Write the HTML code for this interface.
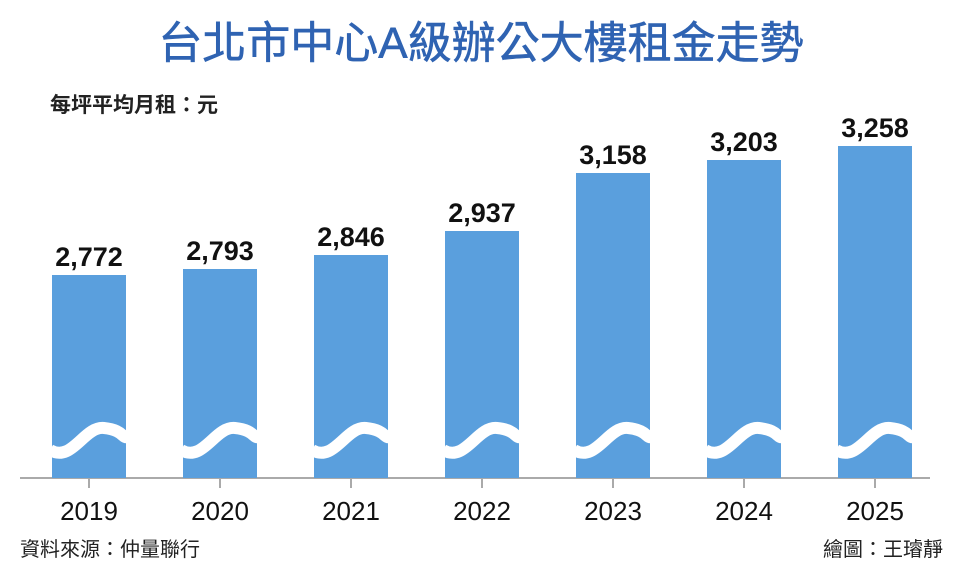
<!DOCTYPE html>
<html><head><meta charset="utf-8"><style>
body{margin:0;background:#fff;}
svg{display:block;}
text{font-family:"Liberation Sans","Noto Sans CJK TC",sans-serif;}
</style></head><body>
<svg width="963" height="566" viewBox="0 0 963 566" xmlns="http://www.w3.org/2000/svg">
<rect width="963" height="566" fill="#fff"/>
<text x="481" y="58" text-anchor="middle" font-size="44" fill="#2f63b2" stroke="#2f63b2" stroke-width="0.6">台北市中心A級辦公大樓租金走勢</text>
<text x="50" y="112" font-size="21" fill="#222" font-weight="bold">每坪平均月租：元</text>
<line x1="20" y1="478" x2="930" y2="478" stroke="#aaa" stroke-width="2"/>
<g fill="#5a9fdd">
<rect x="52" y="275" width="74" height="203"/>
<rect x="183" y="269" width="74" height="209"/>
<rect x="314" y="255" width="74" height="223"/>
<rect x="445" y="231" width="74" height="247"/>
<rect x="576" y="173" width="74" height="305"/>
<rect x="707" y="160" width="74" height="318"/>
<rect x="838" y="146" width="74" height="332"/>
</g>
<g fill="none" stroke="#fff" stroke-width="12">
<path d="M50,450 C72,463 84,426 104,428 S122,439 128,437"/>
<path d="M181,450 C203,463 215,426 235,428 S253,439 259,437"/>
<path d="M312,450 C334,463 346,426 366,428 S384,439 390,437"/>
<path d="M443,450 C465,463 477,426 497,428 S515,439 521,437"/>
<path d="M574,450 C596,463 608,426 628,428 S646,439 652,437"/>
<path d="M705,450 C727,463 739,426 759,428 S777,439 783,437"/>
<path d="M836,450 C858,463 870,426 890,428 S908,439 914,437"/>
</g>
<g stroke="#aaa" stroke-width="2">
<line x1="89" y1="478" x2="89" y2="488"/><line x1="220" y1="478" x2="220" y2="488"/>
<line x1="351" y1="478" x2="351" y2="488"/><line x1="482" y1="478" x2="482" y2="488"/>
<line x1="613" y1="478" x2="613" y2="488"/><line x1="744" y1="478" x2="744" y2="488"/>
<line x1="875" y1="478" x2="875" y2="488"/>
</g>
<g font-size="27" font-weight="bold" fill="#111" text-anchor="middle">
<text x="89" y="266">2,772</text><text x="220" y="260">2,793</text>
<text x="351" y="246">2,846</text><text x="482" y="222">2,937</text>
<text x="613" y="164">3,158</text><text x="744" y="151">3,203</text>
<text x="875" y="137">3,258</text>
</g>
<g font-size="26" fill="#111" text-anchor="middle">
<text x="89" y="520">2019</text><text x="220" y="520">2020</text>
<text x="351" y="520">2021</text><text x="482" y="520">2022</text>
<text x="613" y="520">2023</text><text x="744" y="520">2024</text>
<text x="875" y="520">2025</text>
</g>
<text x="20" y="556" font-size="20" fill="#222">資料來源：仲量聯行</text>
<text x="943" y="556" font-size="20" fill="#222" text-anchor="end">繪圖：王璿靜</text>
</svg>
</body></html>
